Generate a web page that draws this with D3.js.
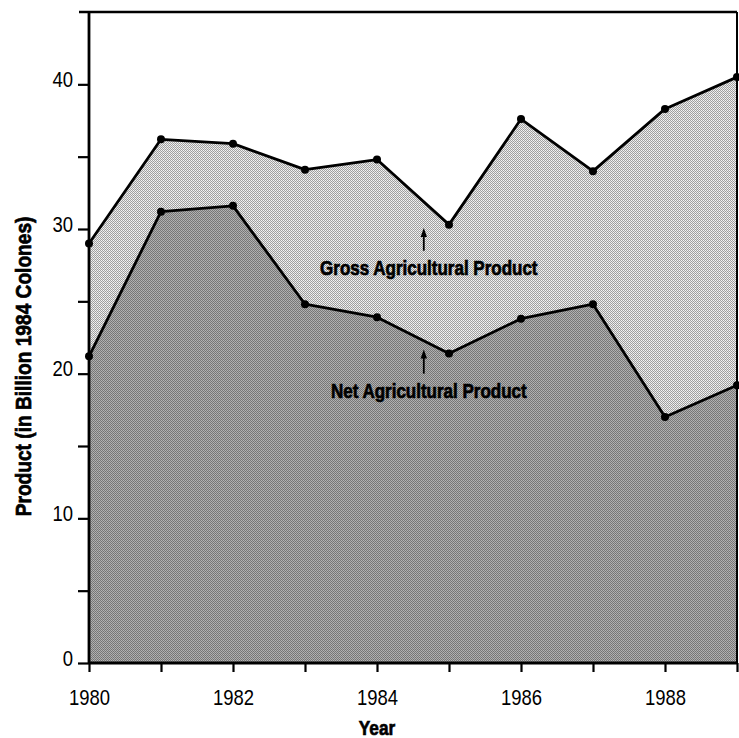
<!DOCTYPE html>
<html>
<head>
<meta charset="utf-8">
<script src="https://cdn.jsdelivr.net/npm/d3@7"></script>
<style>
  body { margin: 0; background: #fff; }
  svg text { font-family: "Liberation Sans", Arial, sans-serif; }
</style>
</head>
<body>
<div id="chart"></div>
<script>
// data
var years = [1980, 1981, 1982, 1983, 1984, 1985, 1986, 1987, 1988, 1989];
var gross = [29.0, 36.2, 35.9, 34.1, 34.8, 30.3, 37.6, 34.0, 38.3, 40.5];
var net   = [21.2, 31.2, 31.6, 24.8, 23.9, 21.4, 23.8, 24.8, 17.0, 19.2];
var yTicks = [0, 10, 20, 30, 40];
var xTickLabels = [1980, 1982, 1984, 1986, 1988];

var W = 739, H = 738;
var margin = {top: 12, right: 2, bottom: 75, left: 89};
var width = W - margin.left - margin.right,
    height = H - margin.top - margin.bottom;

var root = d3.select("#chart")
  .append("svg")
    .attr("width", W)
    .attr("height", H);

// halftone-ish fills
var defs = root.append("defs");
function halftone(id, a, b, c, d) {
  var p = defs.append("pattern").attr("id", id)
    .attr("width", 2).attr("height", 2).attr("patternUnits", "userSpaceOnUse");
  [[0, 0, a], [1, 0, b], [0, 1, c], [1, 1, d]].forEach(function(q) {
    p.append("rect").attr("x", q[0]).attr("y", q[1]).attr("width", 1).attr("height", 1).attr("fill", q[2]);
  });
}
halftone("lightFill", "#f4f4f4", "#a2a2a2", "#9c9c9c", "#e6e6e6");
halftone("darkFill", "#b4b4b4", "#7a7a7a", "#747474", "#acacac");

var svg = root.append("g")
    .attr("transform", "translate(" + margin.left + "," + margin.top + ")");

var x = d3.scaleLinear().domain([1980, 1989]).range([0, width]);
var y = d3.scaleLinear().domain([0, 45]).range([height, 0]);

var grossData = years.map(function(d, i) { return {year: d, value: gross[i]}; });
var netData = years.map(function(d, i) { return {year: d, value: net[i]}; });

var area = d3.area()
  .x(function(d) { return x(d.year); })
  .y0(y(0))
  .y1(function(d) { return y(d.value); });
var line = d3.line()
  .x(function(d) { return x(d.year); })
  .y(function(d) { return y(d.value); });

// shaded areas
svg.append("path").datum(grossData).attr("d", area).attr("fill", "url(#lightFill)");
svg.append("path").datum(netData).attr("d", area).attr("fill", "url(#darkFill)");

// outlines + dots
[grossData, netData].forEach(function(data) {
  svg.append("path").datum(data)
    .attr("d", line)
    .attr("fill", "none")
    .attr("stroke", "#000")
    .attr("stroke-width", 2.8)
    .attr("stroke-linejoin", "round");
  svg.selectAll(null).data(data).enter()
    .append("circle")
      .attr("cx", function(d) { return x(d.year); })
      .attr("cy", function(d) { return y(d.value); })
      .attr("r", 4)
      .attr("fill", "#000");
});

// frame: top and right
svg.append("line").attr("x1", -10).attr("x2", width).attr("y1", 0).attr("y2", 0)
  .attr("stroke", "#000").attr("stroke-width", 2.5);
svg.append("line").attr("x1", width).attr("x2", width).attr("y1", 0).attr("y2", height)
  .attr("stroke", "#000").attr("stroke-width", 2);

// condensed look: squeeze text horizontally around its anchor
function squeeze(sel, k) {
  sel.each(function() {
    var t = d3.select(this);
    var ax = +t.attr("x") || 0, ay = +t.attr("y") || 0;
    t.attr("transform", "translate(" + ax + "," + ay + ") scale(" + k + ",1) translate(" + (-ax) + "," + (-ay) + ")");
  });
}
// heavier bold, like the printed labels
function heavy(sel) {
  sel.attr("font-weight", "bold").attr("stroke", "#000").attr("stroke-width", 0.7);
}

// Y axis
var yAxis = svg.append("g")
  .call(d3.axisLeft(y).tickValues(d3.range(0, 45, 5)).tickSize(11)
    .tickFormat(function(d) { return yTicks.indexOf(d) >= 0 ? d : ""; }));
yAxis.select(".domain").attr("stroke-width", 2.8).attr("d", "M0," + height + "V0");
yAxis.selectAll(".tick line").attr("stroke-width", 2.2);
yAxis.selectAll(".tick text").attr("font-size", 22).attr("fill", "#000")
  .attr("x", -16).attr("dy", "0.1em").call(squeeze, 0.84);

// X axis
var xAxis = svg.append("g")
  .attr("transform", "translate(0," + height + ")")
  .call(d3.axisBottom(x).tickValues(years).tickSize(9)
    .tickFormat(function(d) { return xTickLabels.indexOf(d) >= 0 ? d : ""; }));
xAxis.select(".domain").attr("stroke-width", 2.8).attr("d", "M0,0H" + width);
xAxis.selectAll(".tick line").attr("stroke-width", 2.2);
xAxis.selectAll(".tick text").attr("font-size", 22).attr("fill", "#000")
  .attr("y", 26).call(squeeze, 0.84);

// axis titles
svg.append("text")
  .attr("x", x(1984)).attr("y", height + 72)
  .attr("text-anchor", "middle")
  .attr("font-size", 21)
  .text("Year")
  .call(heavy)
  .call(squeeze, 0.82);
svg.append("g")
  .attr("transform", "translate(" + (-58) + "," + y(20.5) + ") rotate(-90)")
  .append("text")
  .attr("x", 0).attr("y", 0)
  .attr("text-anchor", "middle")
  .attr("font-size", 22)
  .text("Product (in Billion 1984 Colones)")
  .call(heavy)
  .call(squeeze, 0.87);

// annotations with arrows
var notes = [
  {label: "Gross Agricultural Product", year: 1984.65, from: 28.5, to: 30.0, textAt: 27.2},
  {label: "Net Agricultural Product", year: 1984.65, from: 20.0, to: 21.6, textAt: 18.7}
];
notes.forEach(function(n) {
  var ax = x(n.year);
  svg.append("line")
    .attr("x1", ax).attr("x2", ax)
    .attr("y1", y(n.from)).attr("y2", y(n.to) + 6)
    .attr("stroke", "#000").attr("stroke-width", 1.8);
  svg.append("path")
    .attr("d", "M" + (ax - 3.2) + "," + (y(n.to) + 8) + "L" + ax + "," + (y(n.to) - 1) + "L" + (ax + 3.2) + "," + (y(n.to) + 8) + "Z")
    .attr("fill", "#000");
  svg.append("text")
    .attr("x", ax + 5).attr("y", y(n.textAt))
    .attr("text-anchor", "middle").attr("dominant-baseline", "middle")
    .attr("font-size", 20)
    .text(n.label)
    .call(heavy)
    .call(squeeze, 0.85);
});
</script>
</body>
</html>
